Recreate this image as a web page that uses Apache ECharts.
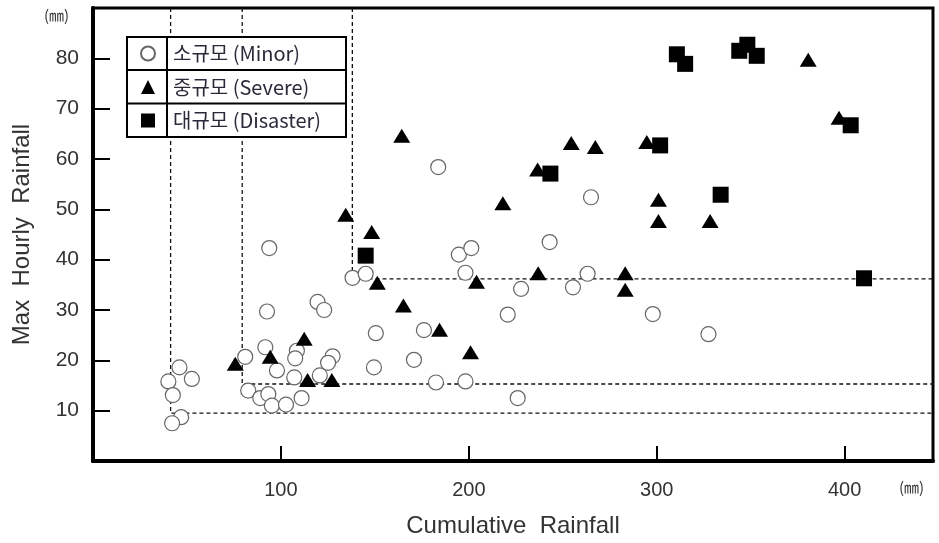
<!DOCTYPE html>
<html>
<head>
<meta charset="utf-8">
<script src="https://cdn.jsdelivr.net/npm/echarts@6/dist/echarts.min.js"></script>
<style>
html,body{margin:0;padding:0;background:#fff;}
#chart{width:939px;height:543px;}
</style>
</head>
<body>
<div id="chart"></div>
<script>
// ---- data ----
const seriesNames = ['소규모 (Minor)', '중규모 (Severe)', '대규모 (Disaster)'];
const minorPoints = [
  [93.8,42.3],[92.6,29.7],[119.5,31.6],[123.0,30.0],[138.1,36.4],[145.1,37.2],
  [150.5,25.4],[149.5,18.6],[46.0,18.6],[52.6,16.3],[40.1,15.8],[42.5,13.1],
  [46.9,8.7],[42.1,7.5],[81.0,20.7],[91.7,22.6],[97.9,18.0],[108.5,21.9],
  [107.6,20.4],[107.1,16.6],[120.7,17.0],[127.5,20.8],[125.1,19.5],[82.6,14.0],
  [89.0,12.5],[93.3,13.3],[95.2,11.0],[102.7,11.2],[111.0,12.5],[183.7,58.4],
  [194.7,41.0],[201.3,42.3],[198.2,37.4],[227.8,34.2],[220.7,29.1],[243.0,43.5],
  [265.0,52.4],[255.4,34.5],[263.2,37.2],[176.1,26.0],[170.8,20.1],[182.5,15.6],
  [198.2,15.8],[226.0,12.5],[297.9,29.2],[327.5,25.2]
];
const severePoints = [
  [75.7,19.3],[94.3,20.7],[112.4,24.3],[114.2,16.1],[127.1,16.1],[134.5,48.9],
  [148.3,45.5],[151.3,35.4],[165.2,30.9],[184.4,26.1],[200.9,21.6],[204.1,35.6],
  [218.1,51.2],[236.6,57.9],[236.9,37.3],[283.2,37.3],[283.2,34.0],[164.3,64.6],
  [254.5,63.2],[267.3,62.4],[294.7,63.4],[300.9,51.9],[300.9,47.7],[328.4,47.7],
  [380.6,79.7],[397.0,68.2]
];
const disasterPoints = [
  [145.1,40.8],[243.4,57.1],[301.8,62.7],[334.0,52.9],[310.7,80.8],[315.1,78.9],
  [343.9,81.5],[348.2,82.7],[353.2,80.5],[403.2,66.7],[410.3,36.3]
];
const thresholdX = [41.3, 79.4, 138.0];
const thresholdY = [9.5, 15.3, 36.2];
const xTickLabels = [100, 200, 300, 400];
const yTickLabels = [10, 20, 30, 40, 50, 60, 70, 80];
const xMax = 447, yMax = 90;

// ---- chart ----
const chart = echarts.init(document.getElementById('chart'), null, {renderer: 'canvas'});

const stepSeries = thresholdX.map((tx, i) => ({
  type: 'line',
  silent: true,
  symbol: 'none',
  z: 1,
  lineStyle: {color: '#111', width: 1.3, type: [4, 3]},
  data: [[tx, yMax], [tx, thresholdY[i]], [xMax, thresholdY[i]]]
}));

const option = {
  backgroundColor: '#fff',
  animation: false,
  grid: {left: 93, right: 6, top: 8, bottom: 81, show: true, borderColor: '#000', borderWidth: 3},
  legend: {
    orient: 'vertical',
    left: 140, top: 43.5, padding: 0,
    itemWidth: 14, itemHeight: 14, itemGap: 13.5,
    z: 20,
    data: seriesNames,
    textStyle: {fontSize: 20, lineHeight: 20, padding: [0, 0, 0, 13], color: '#2a2a3a', fontFamily: '"Noto Sans CJK KR", Arial, sans-serif'}
  },
  xAxis: {
    type: 'value', min: 0, max: xMax, interval: 100,
    name: 'Cumulative  Rainfall', nameLocation: 'middle', nameGap: 53,
    nameTextStyle: {fontSize: 24, color: '#333', fontFamily: '"Liberation Sans Narrow", "Arial Narrow", Arial, sans-serif'},
    axisLine: {show: true, lineStyle: {color: '#000', width: 4}},
    axisTick: {show: true, inside: true, length: 15, lineStyle: {color: '#000', width: 2}},
    axisLabel: {
      margin: 19, fontSize: 20, color: '#333',
      fontFamily: '"Liberation Sans Narrow", "Arial Narrow", Arial, sans-serif',
      formatter: v => (xTickLabels.indexOf(v) >= 0 ? String(v) : '')
    },
    splitLine: {show: false}
  },
  yAxis: {
    type: 'value', min: 0, max: yMax, interval: 10,
    name: 'Max  Hourly  Rainfall', nameLocation: 'middle', nameGap: 59, nameRotate: 90,
    nameTextStyle: {fontSize: 24, color: '#333', fontFamily: 'Arial, "Liberation Sans", sans-serif'},
    axisLine: {show: true, lineStyle: {color: '#000', width: 4}},
    axisTick: {show: true, inside: true, length: 17, lineStyle: {color: '#000', width: 2}},
    axisLabel: {
      margin: 14, fontSize: 21, color: '#333',
      fontFamily: 'Arial, "Liberation Sans", sans-serif',
      formatter: v => (yTickLabels.indexOf(v) >= 0 ? String(v) : '')
    },
    splitLine: {show: false}
  },
  graphic: [
    {type: 'rect', z: 10, shape: {x: 127, y: 37, width: 219, height: 100},
     style: {fill: '#fff', stroke: '#000', lineWidth: 2}},
    {type: 'line', z: 11, shape: {x1: 167, y1: 37, x2: 167, y2: 137}, style: {stroke: '#000', lineWidth: 2}},
    {type: 'line', z: 11, shape: {x1: 127, y1: 70, x2: 346, y2: 70}, style: {stroke: '#000', lineWidth: 2}},
    {type: 'line', z: 11, shape: {x1: 127, y1: 103.5, x2: 346, y2: 103.5}, style: {stroke: '#000', lineWidth: 2}},
    {type: 'text', z: 11, left: 44, top: 8, style: {text: '(㎜)', fontSize: 15, fill: '#333', fontFamily: '"Noto Sans CJK KR", sans-serif'}},
    {type: 'text', z: 11, left: 899, top: 480, style: {text: '(㎜)', fontSize: 15, fill: '#333', fontFamily: '"Noto Sans CJK KR", sans-serif'}}
  ],
  series: [
    {
      name: seriesNames[0], type: 'scatter', z: 3,
      symbol: 'circle', symbolSize: 15,
      itemStyle: {color: '#fff', borderColor: '#666', borderWidth: 1.2, opacity: 1},
      data: minorPoints
    },
    {
      name: seriesNames[1], type: 'scatter', z: 4,
      symbol: 'triangle', symbolSize: [17, 14],
      itemStyle: {color: '#000', opacity: 1},
      data: severePoints
    },
    {
      name: seriesNames[2], type: 'scatter', z: 5,
      symbol: 'rect', symbolSize: 16,
      itemStyle: {color: '#000', opacity: 1},
      data: disasterPoints
    }
  ].concat(stepSeries)
};
chart.setOption(option);
</script>
</body>
</html>
